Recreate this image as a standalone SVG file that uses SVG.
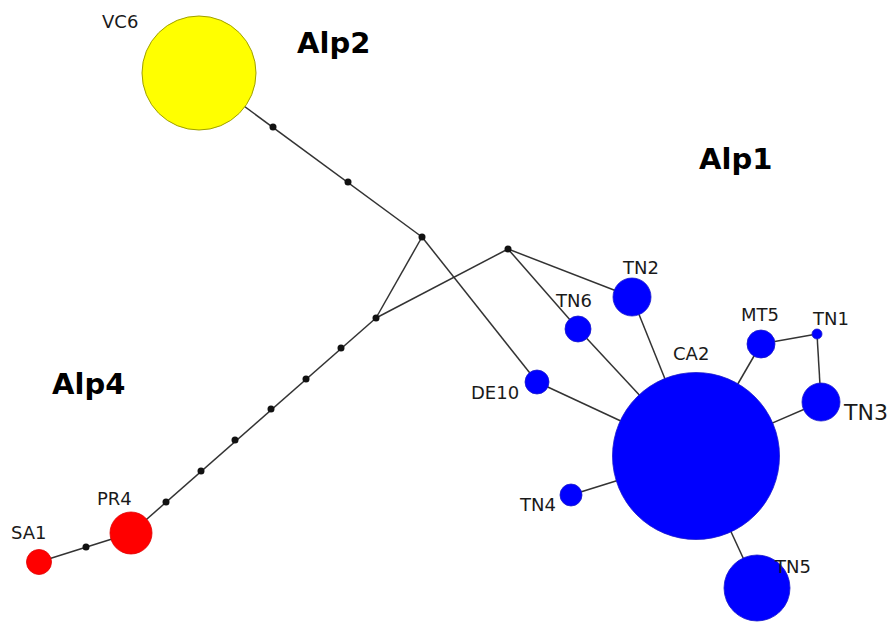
<svg xmlns="http://www.w3.org/2000/svg" width="892" height="623" viewBox="0 0 892 623">
<style>
.e{stroke:#333;stroke-width:1.5;fill:none}
.d{fill:#111}
.b{fill:#0000ff;stroke:#1a1acc;stroke-width:0.8}
.r{fill:#ff0000;stroke:#e00000;stroke-width:0.8}
.y{fill:#ffff00;stroke:#a0a000;stroke-width:1}
.l{font-family:"DejaVu Sans",Verdana,sans-serif;font-size:18px;fill:#1a1a1a}
.g{font-family:"DejaVu Sans",Verdana,sans-serif;font-size:29px;font-weight:bold;fill:#000}
</style>
<rect width="892" height="623" fill="#fff"/>
<g id="connectors">
<line class="e" x1="199" y1="73" x2="422" y2="237"/>
<line class="e" x1="422" y1="237" x2="376" y2="318"/>
<line class="e" x1="422" y1="237" x2="537" y2="382"/>
<line class="e" x1="376" y1="318" x2="508" y2="249"/>
<line class="e" x1="508" y1="249" x2="632" y2="297"/>
<line class="e" x1="508" y1="249" x2="578" y2="329"/>
<line class="e" x1="376" y1="318" x2="131" y2="533"/>
<line class="e" x1="131" y1="533" x2="39" y2="562"/>
<line class="e" x1="696" y1="456" x2="632" y2="297"/>
<line class="e" x1="696" y1="456" x2="578" y2="329"/>
<line class="e" x1="696" y1="456" x2="537" y2="382"/>
<line class="e" x1="696" y1="456" x2="761" y2="344"/>
<line class="e" x1="696" y1="456" x2="821" y2="402"/>
<line class="e" x1="696" y1="456" x2="571" y2="495"/>
<line class="e" x1="696" y1="456" x2="757" y2="588"/>
<line class="e" x1="761" y1="344" x2="817" y2="334"/>
<line class="e" x1="817" y1="334" x2="821" y2="402"/>
</g>
<g id="median-vectors">
<circle class="d" cx="273" cy="127" r="3.5"/>
<circle class="d" cx="348" cy="182" r="3.5"/>
<circle class="d" cx="422" cy="237" r="3.5"/>
<circle class="d" cx="508" cy="249" r="3.5"/>
<circle class="d" cx="376" cy="318" r="3.5"/>
<circle class="d" cx="341" cy="348" r="3.5"/>
<circle class="d" cx="306" cy="379" r="3.5"/>
<circle class="d" cx="271" cy="409" r="3.5"/>
<circle class="d" cx="235" cy="440" r="3.5"/>
<circle class="d" cx="201" cy="471" r="3.5"/>
<circle class="d" cx="166" cy="502" r="3.5"/>
<circle class="d" cx="86" cy="547" r="3.5"/>
</g>
<g id="VC6"><circle class="y" cx="199" cy="73" r="57"/><text class="l" x="102" y="28">VC6</text></g>
<g id="PR4"><circle class="r" cx="131" cy="533" r="21"/><text class="l" x="97" y="505">PR4</text></g>
<g id="SA1"><circle class="r" cx="39" cy="562" r="12.5"/><text class="l" x="11" y="539">SA1</text></g>
<g id="DE10"><circle class="b" cx="537" cy="382" r="12"/><text class="l" x="471" y="399">DE10</text></g>
<g id="TN2"><circle class="b" cx="632" cy="297" r="19"/><text class="l" x="623" y="274">TN2</text></g>
<g id="TN6"><circle class="b" cx="578" cy="329" r="13"/><text class="l" x="556" y="307">TN6</text></g>
<g id="CA2"><circle class="b" cx="696" cy="456" r="83.5"/><text class="l" x="673" y="360">CA2</text></g>
<g id="MT5"><circle class="b" cx="761" cy="344" r="14"/><text class="l" x="741" y="321">MT5</text></g>
<g id="TN1"><circle class="b" cx="817" cy="334" r="5"/><text class="l" x="813" y="325">TN1</text></g>
<g id="TN3"><circle class="b" cx="821" cy="402" r="19"/><text class="l" x="844" y="420" style="font-size:22px">TN3</text></g>
<g id="TN4"><circle class="b" cx="571" cy="495" r="11"/><text class="l" x="520" y="511">TN4</text></g>
<g id="TN5"><circle class="b" cx="757" cy="588" r="33"/><text class="l" x="775" y="573">TN5</text></g>
<g id="groups">
<text class="g" x="297" y="53">Alp2</text>
<text class="g" x="699" y="169">Alp1</text>
<text class="g" x="52" y="394">Alp4</text>
</g>
</svg>
